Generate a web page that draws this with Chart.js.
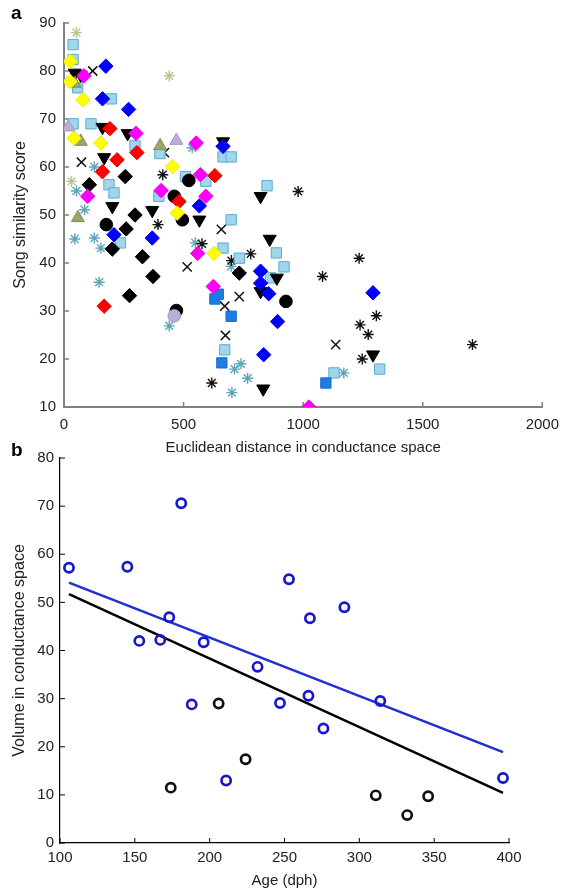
<!DOCTYPE html>
<html>
<head>
<meta charset="utf-8">
<script src="https://cdn.jsdelivr.net/npm/chart.js@4.4.0/dist/chart.umd.min.js"></script>
<style>
  html, body { margin: 0; padding: 0; background: #fff; }
  body { width: 568px; height: 892px; position: relative; overflow: hidden; font-family: "Liberation Sans", Arial, sans-serif; }
  #wrapA { position: absolute; left: 0; top: 0; width: 568px; height: 470px; }
  #wrapB { position: absolute; left: 0; top: 430px; width: 568px; height: 462px; }
  .tag { position: absolute; font-weight: bold; font-size: 19px; color: #000; }
</style>
</head>
<body>
<div id="wrapA"><canvas id="chartA"></canvas></div>
<div id="wrapB"><canvas id="chartB"></canvas></div>
<div class="tag" style="left:11px; top:2px;">a</div>
<div class="tag" style="left:11px; top:439px;">b</div>
<script>
// ---- panel a: [distance, similarity score] per marker group ----
const khakiStar = [[52,88],[440,79],[31,57]];
const lightBlueSquare = [[38,85.5],[38,82.4],[57,76.5],[198,74.2],[38,69],[113,69],[297,64.4],[401,62.8],[665,62.1],[699,62.1],[188,56.3],[209,54.6],[236,44.2],[508,58],[593,57],[397,53.9],[849,56.1],[699,49],[665,43.1],[733,41],[888,42.1],[920,39.2],[863,36.9],[672,21.9],[1129,17.1],[1320,17.9]];
const yellowDiamond = [[25,82],[25,77.8],[79,74],[42,66],[154,65],[454,60.1],[474,50.4],[627,42]];
const blackTriDown = [[45,79.6],[70,79.2],[161,68.3],[266,67],[168,62],[202,51.8],[369,51],[566,49],[665,65.3],[822,53.9],[860,45],[890,36.9],[822,34.1],[833,13.8],[1292,20.9]];
const magentaDiamond = [[83,79],[301,67],[553,65],[99,53.9],[406,55.1],[570,58.4],[593,53.9],[559,42],[624,35.1],[1024,10]];
const blackX = [[120,80],[73,61],[420,63],[515,39.2],[658,47],[733,33],[672,31],[675,24.9],[1136,23]];
const blueDiamond = [[175,81],[161,74.2],[270,72],[665,64.3],[209,45.9],[369,45.2],[566,51.9],[822,38.3],[822,35.8],[856,33.6],[893,27.8],[835,20.9],[1292,33.8]];
const oliveTriUp = [[45,77.4],[70,65.3],[402,64.4],[58,49.4]];
const lavenderTriUp = [[18,68.3],[470,65.5]];
const redDiamond = [[192,68],[305,63],[222,61.5],[161,59],[631,58.2],[481,52.8],[168,31]];
const blackDiamond = [[106,56.3],[256,58],[297,50],[260,47.1],[202,42.9],[328,41.3],[372,37.2],[274,33.2],[733,37.9]];
const blackStar = [[393,48],[413,58.4],[577,44],[618,15],[979,54.9],[781,41.9],[700,40.5],[1081,37.2],[1234,41],[1238,27.1],[1272,25.1],[1306,29],[1247,20],[1708,23]];
const blackCircle = [[177,48],[461,53.9],[522,57.2],[495,49],[470,30.1],[928,32]];
const tealStar = [[127,60],[52,55],[86,51.1],[45,45],[127,45.2],[154,43.1],[147,36],[549,44.2],[440,26.9],[536,64],[699,39.3],[713,17.9],[740,19],[768,16],[702,13],[1170,17.1]];
const mediumBlueSquare = [[631,32.5],[645,33.5],[699,28.9],[660,19.2],[1095,15]];
const lavenderCircle = [[461,29]];

const ticksAX = [0, 500, 1000, 1500, 2000];
const ticksAY = [10, 20, 30, 40, 50, 60, 70, 80, 90];

// ---- panel b: age (dph) vs volume ----
const blueAge = [106,145,153,167,173,181,188,196,211,232,247,253,266,267,276,290,314,396];
const blueVolume = [57.2,57.4,42,42.2,46.9,70.6,28.8,41.7,13,36.6,29.1,54.8,30.6,46.7,23.8,49,29.5,13.5];
const blackAge = [174,206,224,311,332,346];
const blackVolume = [11.5,29,17.4,9.9,5.8,9.7];
const blueFitX = [106, 396];
const blueFitY = [54.1, 18.9];
const blackFitX = [106, 396];
const blackFitY = [51.7, 10.4];

const ticksBX = [100, 150, 200, 250, 300, 350, 400];
const ticksBY = [0, 10, 20, 30, 40, 50, 60, 70, 80];

const toPts = arr => arr.map(p => ({ x: p[0], y: p[1] }));
const zip = (xs, ys) => xs.map((x, i) => ({ x: x, y: ys[i] }));

const FAMILY = "'Liberation Sans', Arial, sans-serif";
const tickFont = { family: FAMILY, size: 15 };

// MATLAB style ticks pointing into the plot
const inwardTicks = {
  id: 'inwardTicks',
  beforeDatasetsDraw(chart, args, opts) {
    const { ctx, chartArea } = chart;
    const sx = chart.scales.x, sy = chart.scales.y;
    ctx.save();
    ctx.strokeStyle = opts.color;
    ctx.lineWidth = opts.width;
    ctx.beginPath();
    sx.ticks.forEach(t => {
      const px = sx.getPixelForValue(t.value);
      ctx.moveTo(px, chartArea.bottom);
      ctx.lineTo(px, chartArea.bottom - opts.length);
    });
    sy.ticks.forEach(t => {
      const py = sy.getPixelForValue(t.value);
      ctx.moveTo(chartArea.left, py);
      ctx.lineTo(chartArea.left + opts.length, py);
    });
    ctx.stroke();
    ctx.restore();
  }
};

function marker(data, style, fill, border, radius, extra) {
  return Object.assign({
    data: toPts(data),
    pointStyle: style,
    pointRadius: radius,
    pointHoverRadius: radius,
    backgroundColor: fill,
    borderColor: border,
    pointBorderWidth: 1
  }, extra || {});
}

function axisOpts(min, max, list, pad, size, titleText, titleSize, titlePad, color, width) {
  return {
    type: 'linear',
    min: min, max: max,
    afterFit: size,
    afterBuildTicks: s => { s.ticks = list.map(v => ({ value: v })); },
    ticks: { padding: pad, font: tickFont, color: '#222', callback: v => String(v) },
    grid: { display: false, drawTicks: false },
    border: { color: color, width: width },
    title: { display: true, text: titleText, font: { family: FAMILY, size: titleSize }, color: '#222', padding: titlePad }
  };
}

// first in list = drawn on top
new Chart(document.getElementById('chartA'), {
  type: 'scatter',
  data: {
    datasets: [
      marker(lavenderCircle, 'circle', '#bcaed9', '#a596c8', 6.3),
      marker(magentaDiamond, 'rectRot', '#ff00ff', '#e600e6', 7.2),
      marker(yellowDiamond, 'rectRot', '#ffff00', '#ecec00', 7.2),
      marker(redDiamond, 'rectRot', '#ff0000', '#e00000', 7.2),
      marker(blueDiamond, 'rectRot', '#0000ff', '#0000e0', 7.2),
      marker(oliveTriUp, 'triangle', '#99a76d', '#7f8d56', 7.5),
      marker(lavenderTriUp, 'triangle', '#bcaed9', '#a596c8', 7.5),
      marker(blackCircle, 'circle', '#000', '#000', 6.3),
      marker(blackDiamond, 'rectRot', '#000', '#000', 7.2),
      marker(blackTriDown, 'triangle', '#000', '#000', 7.5, { pointRotation: 180 }),
      marker(mediumBlueSquare, 'rect', '#1c7de6', '#1a6fd0', 7.3),
      marker(lightBlueSquare, 'rect', '#a0d5eb', '#5aaed0', 7.3),
      marker(blackX, 'crossRot', '#000', '#111', 6.5, { pointBorderWidth: 1.5 }),
      marker(blackStar, 'star', '#000', '#111', 5.5, { pointBorderWidth: 1.4 }),
      marker(tealStar, 'star', '#5ea6b8', '#5ea6b8', 5.5, { pointBorderWidth: 1.4 }),
      marker(khakiStar, 'star', '#b7c68f', '#b7c68f', 5.5, { pointBorderWidth: 1.4 })
    ]
  },
  options: {
    responsive: true,
    maintainAspectRatio: false,
    animation: false,
    events: [],
    layout: { padding: { left: 0, top: 23, right: 15, bottom: 0 } },
    plugins: {
      legend: { display: false },
      tooltip: { enabled: false },
      inwardTicks: { color: '#808080', width: 1.5, length: 5 }
    },
    scales: {
      x: axisOpts(0, 2000, ticksAX, 9, s => { s.height = 63; },
        'Euclidean distance in conductance space', 15, { top: 0, bottom: 13.5 }, '#808080', 2),
      y: axisOpts(10, 90, ticksAY, 8, s => { s.width = 64; },
        'Song similarity score', 16, { top: 11, bottom: 0 }, '#808080', 2)
    }
  },
  plugins: [inwardTicks]
});

new Chart(document.getElementById('chartB'), {
  type: 'scatter',
  data: {
    datasets: [
      {
        data: zip(blueAge, blueVolume),
        pointStyle: 'circle', pointRadius: 4.6, pointHoverRadius: 4.6,
        backgroundColor: 'rgba(0,0,0,0)', borderColor: '#1717cc', pointBorderWidth: 2.7
      },
      {
        data: zip(blackAge, blackVolume),
        pointStyle: 'circle', pointRadius: 4.6, pointHoverRadius: 4.6,
        backgroundColor: 'rgba(0,0,0,0)', borderColor: '#111', pointBorderWidth: 2.7
      },
      {
        data: zip(blueFitX, blueFitY),
        showLine: true, pointRadius: 0, borderColor: '#1f2fd0', borderWidth: 2.5
      },
      {
        data: zip(blackFitX, blackFitY),
        showLine: true, pointRadius: 0, borderColor: '#000', borderWidth: 2.5
      }
    ]
  },
  options: {
    responsive: true,
    maintainAspectRatio: false,
    animation: false,
    events: [],
    layout: { padding: { left: 0, top: 28, right: 59, bottom: 0 } },
    plugins: {
      legend: { display: false },
      tooltip: { enabled: false },
      inwardTicks: { color: '#000', width: 1, length: 5 }
    },
    scales: {
      x: axisOpts(100, 400, ticksBX, 6, s => { s.height = 49; },
        'Age (dph)', 15, { top: 0, bottom: 2.5 }, '#000', 1.2),
      y: axisOpts(0, 80, ticksBY, 6, s => { s.width = 60; },
        'Volume in conductance space', 16, { top: 9.5, bottom: 0 }, '#000', 1.2)
    }
  },
  plugins: [inwardTicks]
});
</script>
</body>
</html>
